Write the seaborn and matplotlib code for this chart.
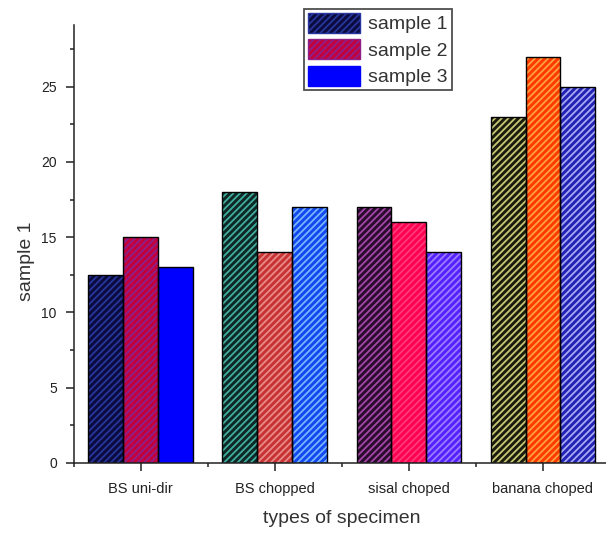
import matplotlib
matplotlib.use("Agg")
import matplotlib.pyplot as plt
from matplotlib.patches import Patch, Rectangle
from matplotlib.ticker import MultipleLocator, FixedLocator
import seaborn as sns
import pandas as pd

categories = ["BS uni-dir", "BS chopped", "sisal choped", "banana choped"]
series_names = ["sample 1", "sample 2", "sample 3"]
sample1 = [12.5, 18, 17, 23]
sample2 = [15, 14, 16, 27]
sample3 = [13, 17, 14, 25]
y_ticks = [0, 5, 10, 15, 20, 25]

# styles: face colour and hatch colour for every bar (series x category)
face_colors = [
    ["#0b0b3e", "#0f2826", "#2a0c2e", "#1c1c0e"],
    ["#c4003c", "#c83232", "#ff0050", "#ff3a00"],
    ["#0000ff", "#1248f0", "#5520ff", "#2222b4"],
]
hatch_colors = [
    ["#26369e", "#3fae9e", "#a545a5", "#c8c874"],
    ["#8e2088", "#e88a8a", "#ff3a7a", "#ffa040"],
    ["#0000ff", "#78b4ff", "#9a7cff", "#a8a8f4"],
]
HATCH = "/////"

sns.set_style("white")
plt.rcParams["font.family"] = ["Liberation Sans", "DejaVu Sans"]
plt.rcParams["hatch.linewidth"] = 1.3

df = pd.DataFrame({
    "specimen": categories * 3,
    "value": sample1 + sample2 + sample3,
    "sample": [s for s in series_names for _ in categories],
})

fig = plt.figure(figsize=(6.06, 5.33), dpi=100)
ax = fig.add_axes([73.5 / 606, (533 - 463) / 533, (610 - 73.5) / 606, (463 - 25) / 533])

sns.barplot(data=df, x="specimen", y="value", hue="sample", order=categories,
            hue_order=series_names, palette=[r[0] for r in face_colors],
            width=0.78, errorbar=None, ax=ax, legend=False, saturation=1)

has_hc = hasattr(Rectangle((0, 0), 1, 1), "set_hatchcolor")
for si, cont in enumerate(ax.containers):
    for ci, bar in enumerate(cont.patches):
        bar.set_facecolor(face_colors[si][ci])
        bar.set_hatch(HATCH)
        if has_hc:
            bar.set_edgecolor("black")
            bar.set_hatchcolor(hatch_colors[si][ci])
            bar.set_linewidth(1.0)
        else:
            bar.set_edgecolor(hatch_colors[si][ci])
            bar.set_linewidth(0)
            ax.add_patch(Rectangle(bar.get_xy(), bar.get_width(), bar.get_height(),
                                   fill=False, edgecolor="black", linewidth=1.0, zorder=bar.get_zorder() + 0.1))

ax.set_xlim(-0.5, 3.5)
ax.set_ylim(0, 29.1)
ax.set_yticks(y_ticks)
ax.yaxis.set_minor_locator(MultipleLocator(2.5))
ax.xaxis.set_minor_locator(FixedLocator([-0.5, 0.5, 1.5, 2.5, 3.5]))

for s in ["top", "right"]:
    ax.spines[s].set_visible(False)
for s in ["left", "bottom"]:
    ax.spines[s].set_linewidth(1.1)
    ax.spines[s].set_color("#222222")

ax.tick_params(axis="both", which="major", direction="out", length=6, width=1.1,
               color="#222222", labelcolor="#222222")
ax.tick_params(axis="both", which="minor", direction="out", length=3, width=1.1, color="#222222")
ax.tick_params(axis="y", labelsize=10, pad=6)
ax.tick_params(axis="x", labelsize=10.5, pad=8)
ax.tick_params(left=True, bottom=True)
ax.tick_params(which="minor", left=True, bottom=True)

ax.set_xlabel("types of specimen", fontsize=14, color="#333333")
ax.set_ylabel("sample 1", fontsize=14, color="#333333")
ax.xaxis.set_label_coords(0.5, -0.108)
ax.yaxis.set_label_coords(-0.072, 0.46)

handles = []
for si in range(3):
    kw = dict(facecolor=face_colors[si][0], hatch=HATCH if si < 2 else None, linewidth=1.0)
    if has_hc:
        h = Patch(edgecolor="black", **kw)
        h.set_hatchcolor(hatch_colors[si][0])
    else:
        h = Patch(edgecolor=hatch_colors[si][0], **kw)
    handles.append(h)

leg = ax.legend(handles, series_names, loc="upper left",
                bbox_to_anchor=(304 / 606, 1 - 9 / 533), bbox_transform=fig.transFigure,
                fontsize=14, frameon=True, fancybox=False, shadow=False,
                handlelength=2.7, handleheight=1.2, labelspacing=0.3,
                handletextpad=0.4, borderpad=0.2, borderaxespad=0)
leg.get_frame().set_edgecolor("#222222")
leg.get_frame().set_linewidth(1.3)
for t in leg.get_texts():
    t.set_color("#333333")

fig.savefig("out.png", dpi=100)
